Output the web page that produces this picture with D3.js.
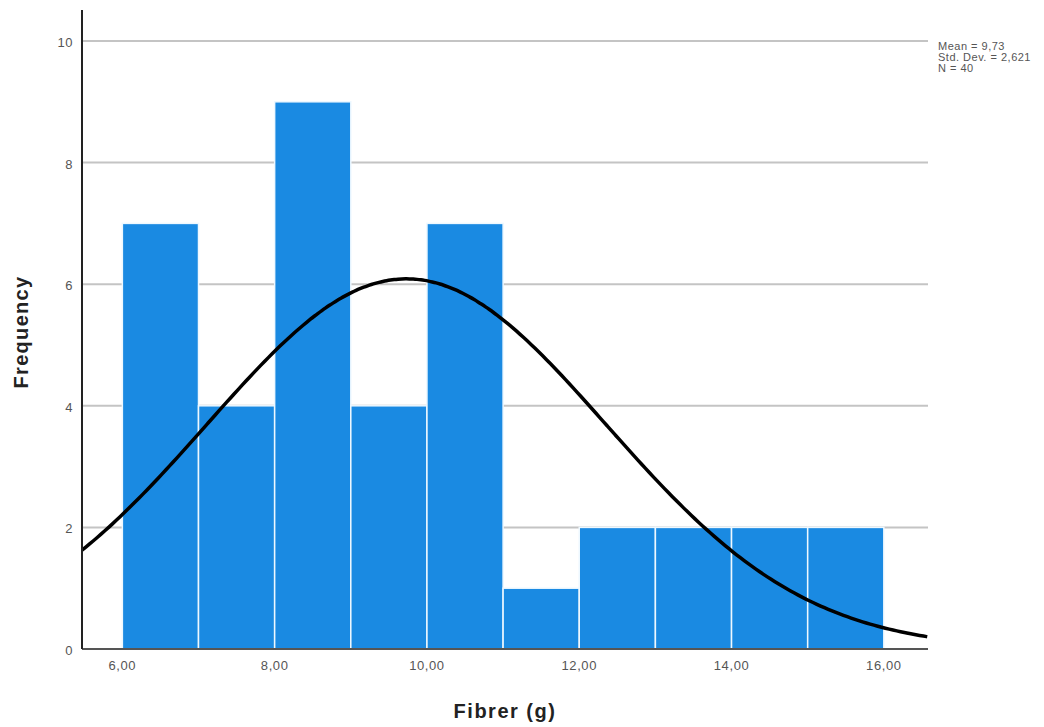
<!DOCTYPE html>
<html>
<head>
<meta charset="utf-8">
<script src="https://cdn.jsdelivr.net/npm/d3@7"></script>
<style>
  body { margin: 0; background: #fff; }
  svg { display: block; font-family: Arial, "Liberation Sans", sans-serif; }
</style>
</head>
<body>
<svg id="chart" width="1044" height="727"></svg>
<script>
// histogram bins (lower edge) and counts
const binStarts = [6, 7, 8, 9, 10, 11, 12, 13, 14, 15];
const counts = [7, 4, 9, 4, 7, 1, 2, 2, 2, 2];
const binWidth = 1;
const xTicks = [6, 8, 10, 12, 14, 16];
const yTicks = [0, 2, 4, 6, 8, 10];
const statLines = ["Mean = 9,73", "Std. Dev. = 2,621", "N = 40"];
const mean = 9.73, sd = 2.621, n = 40;

const svg = d3.select("#chart");
const margin = { left: 82, right: 116, top: 10, bottom: 78 };
const width = 1044, height = 727;

const x = d3.scaleLinear().domain([5.47, 16.58]).range([margin.left, width - margin.right]);
const y = d3.scaleLinear().domain([0, 10.5]).range([height - margin.bottom, height - margin.bottom - 10.5 * 60.8]);

const fmt = v => d3.format(".2f")(v).replace(".", ",");

// gridlines
svg.append("g")
  .selectAll("line")
  .data(yTicks.filter(d => d > 0))
  .enter()
  .append("line")
  .attr("x1", margin.left)
  .attr("x2", width - margin.right)
  .attr("y1", d => y(d))
  .attr("y2", d => y(d))
  .attr("stroke", "#c4c4c4")
  .attr("stroke-width", 2)

// bars
svg.append("g")
  .selectAll("rect")
  .data(binStarts)
  .enter()
  .append("rect")
  .attr("x", d => x(d))
  .attr("width", d => x(d + binWidth) - x(d))
  .attr("y", (d, i) => y(counts[i]))
  .attr("height", (d, i) => y(0) - y(counts[i]))
  .attr("fill", "#1a8ae2")
  .attr("stroke", "#eef8ff")
  .attr("stroke-width", 1.5)

// normal curve from the stats
const curvePts = d3.range(x.domain()[0], x.domain()[1] + 0.001, 0.05).map(v => {
  const f = n * binWidth / (sd * Math.sqrt(2 * Math.PI)) * Math.exp(-0.5 * Math.pow((v - mean) / sd, 2));
  return [v, f];
});
const line = d3.line().x(d => x(d[0])).y(d => y(d[1])).curve(d3.curveBasis);
svg.append("path")
  .attr("d", line(curvePts))
  .attr("fill", "none")
  .attr("stroke", "#000")
  .attr("stroke-width", 3.5)

// axes
svg.append("line")
  .attr("x1", margin.left).attr("x2", width - margin.right)
  .attr("y1", y(0)).attr("y2", y(0))
  .attr("stroke", "#555").attr("stroke-width", 2)
svg.append("line")
  .attr("x1", margin.left).attr("x2", margin.left)
  .attr("y1", margin.top).attr("y2", y(0))
  .attr("stroke", "#222").attr("stroke-width", 2)

// tick labels
svg.append("g")
  .selectAll("text")
  .data(yTicks)
  .enter()
  .append("text")
  .attr("x", margin.left - 9)
  .attr("y", d => y(d) + 6)
  .attr("text-anchor", "end")
  .attr("fill", "#555")
  .style("font-size", "13px")
  .style("letter-spacing", "0.5px")
  .text(d => d)

svg.append("g")
  .selectAll("text")
  .data(xTicks)
  .enter()
  .append("text")
  .attr("x", d => x(d))
  .attr("y", y(0) + 21)
  .attr("text-anchor", "middle")
  .attr("fill", "#555")
  .style("font-size", "13px")
  .style("letter-spacing", "0.6px")
  .text(d => fmt(d))

// axis titles
svg.append("text")
  .attr("x", 505)
  .attr("y", 718)
  .attr("text-anchor", "middle")
  .style("font-size", "20px")
  .style("font-weight", "bold")
  .style("letter-spacing", "1.5px")
  .attr("fill", "#222")
  .text("Fibrer (g)")

svg.append("text")
  .attr("transform", "translate(28,332) rotate(-90)")
  .attr("text-anchor", "middle")
  .style("font-size", "20px")
  .style("font-weight", "bold")
  .style("letter-spacing", "1.3px")
  .attr("fill", "#222")
  .text("Frequency")

// stats box
svg.append("g")
  .selectAll("text")
  .data(statLines)
  .enter()
  .append("text")
  .attr("x", 938)
  .attr("y", (d, i) => 50 + i * 11)
  .attr("fill", "#555")
  .style("font-size", "11px")
  .style("letter-spacing", "0.5px")
  .text(d => d)
</script>
</body>
</html>
